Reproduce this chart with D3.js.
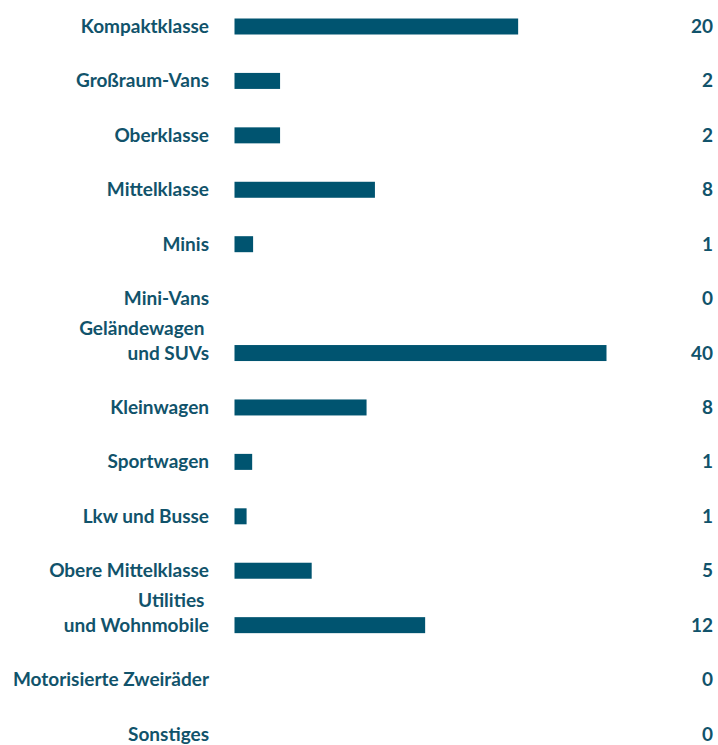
<!DOCTYPE html>
<html>
<head>
<meta charset="utf-8">
<script src="https://cdn.jsdelivr.net/npm/d3@7"></script>
<style>
  body { margin: 0; background: #fff; }
  text { font-family: Lato, "Open Sans", sans-serif; font-weight: 700; fill: #11536b; white-space: pre; }
</style>
</head>
<body>
<div id="chart"></div>
<script>
// vehicle classes, top to bottom (multi-line labels split with \n)
const categories = [
    "Kompaktklasse", "Großraum-Vans", "Oberklasse", "Mittelklasse", "Minis", "Mini-Vans",
    "Geländewagen \nund SUVs", "Kleinwagen", "Sportwagen", "Lkw und Busse",
    "Obere Mittelklasse", "Utilities \nund Wohnmobile", "Motorisierte Zweiräder", "Sonstiges"
]
// bar lengths as drawn in the picture (same scale as the 40 bar)
const barValues = [30.5, 4.9, 4.9, 15.1, 2.0, 0, 40, 14.2, 1.9, 1.3, 8.3, 20.5, 0, 0]
// numbers printed at the right
const valueLabels = ["20", "2", "2", "8", "1", "0", "40", "8", "1", "1", "5", "12", "0", "0"]

const width = 718
const height = 745

const data = categories.map((c, i) => ({ cat: c, v: barValues[i], label: valueLabels[i] }))

const svg = d3.select("#chart")
    .append("svg")
    .attr("width", width)
    .attr("height", height)

// scales
const y = d3.scalePoint()
    .domain(categories)
    .range([26.5, 734])

const x = d3.scaleLinear()
    .domain([0, 40])
    .range([234.5, 606.5])

const barHeight = 16

// bars
svg.selectAll(".bar")
    .data(data.filter(d => d.v > 0))
    .enter()
    .append("rect")
    .attr("class", "bar")
    .attr("x", x(0))
    .attr("y", d => y(d.cat) - barHeight / 2)
    .attr("width", d => x(d.v) - x(0))
    .attr("height", barHeight)
    .attr("fill", "#005470")

// category labels, last line sits on the bar
const labels = svg.selectAll(".cat")
    .data(data)
    .enter()
    .append("text")
    .attr("class", "cat")
    .attr("text-anchor", "end")
    .attr("font-size", 19)
    .attr("transform", d => "translate(209," + (y(d.cat) + 6.5) + ")")

labels.selectAll("tspan")
    .data(d => {
        const lines = d.cat.split("\n")
        return lines.map((l, i) => ({ text: l, dy: (i - (lines.length - 1)) * 25 }))
    })
    .enter()
    .append("tspan")
    .attr("x", 0)
    .attr("y", d => d.dy)
    .text(d => d.text)

// values on the right
svg.selectAll(".val")
    .data(data)
    .enter()
    .append("text")
    .attr("class", "val")
    .attr("text-anchor", "end")
    .attr("font-size", 19)
    .attr("x", 713)
    .attr("y", d => y(d.cat) + 6.5)
    .text(d => d.label)
</script>
</body>
</html>
